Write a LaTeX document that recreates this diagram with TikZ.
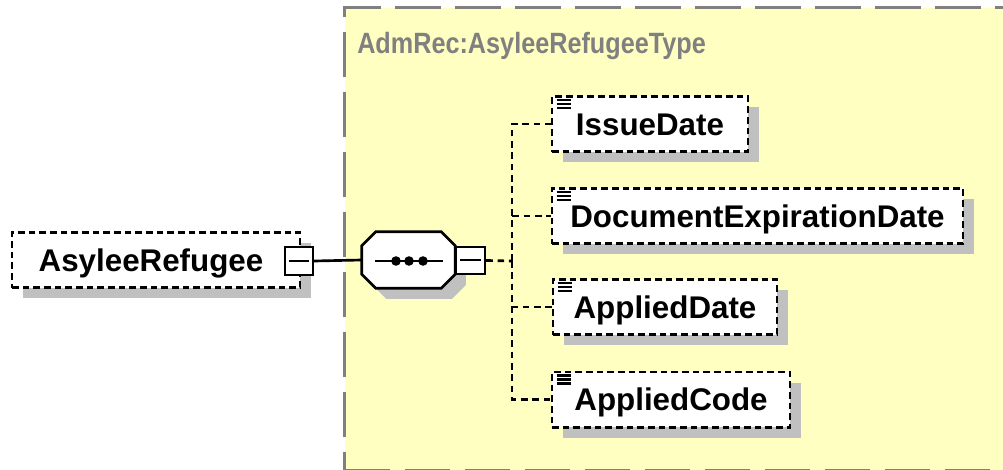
\documentclass[tikz,border=0pt]{standalone}
\usepackage{fontspec}
\setmainfont{Liberation Sans}
\usetikzlibrary{positioning, shadows}
\definecolor{typefill}{RGB}{255,255,194}
\definecolor{shadowgray}{RGB}{192,192,192}
\definecolor{typegray}{RGB}{128,128,128}

\begin{document}
\begin{tikzpicture}[
  x=0.75pt, y=-0.75pt,
  elemshadow/.style={drop shadow={shadow xshift=8pt, shadow yshift=-8pt,
                     fill=shadowgray, opacity=1}},
  elembox/.style={rectangle, draw=black, fill=white, line width=2pt,
                  dash pattern=on 5pt off 3pt, elemshadow,
                  minimum height=41.5pt, inner sep=0pt,
                  font=\fontsize{23.5}{26}\selectfont\bfseries,
                  text height=16.8pt, text depth=0pt},
  typebox/.style={rectangle, draw=typegray, fill=typefill, line width=2.5pt,
                  dash pattern=on 34pt off 11pt, inner sep=0pt},
  seqbox/.style={rectangle, minimum width=69.75pt, minimum height=42pt,
                 inner sep=0pt},
  minusbox/.style={rectangle, draw=black, fill=white, line width=1.8pt,
                   inner sep=0pt},
  link/.style={line width=2pt},
  branch/.style={line width=2pt, dash pattern=on 5pt off 3.5pt}
]
\useasboundingbox (0,0) rectangle (1003,470);

% -------- TYPE AREA --------
\node[typebox, anchor=north west, minimum width=560pt, minimum height=347pt]
  (type) at (343,6) {};
\node[anchor=west, text=typegray, font=\fontsize{22}{24}\selectfont\bfseries,
      text height=15.8pt, text depth=0pt, inner sep=0pt]
  (typename) at (357,42.5) {\scalebox{0.86}[1]{AdmRec:AsyleeRefugeeType}};

% -------- ROOT ELEMENT --------
\node[elembox, minimum width=216pt] (root) at (156,260)
  {AsyleeRefugee\hspace*{7.5pt}};
\node[minusbox, minimum width=21pt, minimum height=21pt] (rootminus) at (299,261) {};
\draw[line width=1.5pt] ([xshift=4pt]rootminus.west) -- ([xshift=-4pt]rootminus.east);

% -------- SEQUENCE --------
\node[seqbox] (seq) at (408.5,260) {};
\path[draw=black, fill=white, line width=2pt, elemshadow]
  ([shift={(14,0)}]seq.north west) -- ([shift={(-14,0)}]seq.north east)
  -- ([shift={(0,14)}]seq.north east) -- ([shift={(0,-14)}]seq.south east)
  -- ([shift={(-14,0)}]seq.south east) -- ([shift={(14,0)}]seq.south west)
  -- ([shift={(0,-14)}]seq.south west) -- ([shift={(0,14)}]seq.north west)
  -- cycle;
\draw[line width=1.5pt] (375,261) -- (443,261);
\foreach \dx in {396,409,423}
  \fill (\dx,261) circle (3.6pt);
\node[minusbox, minimum width=21.75pt, minimum height=20.25pt] (seqminus) at (470.5,260.5) {};
\draw[line width=1.5pt] ([xshift=4pt]seqminus.west) -- ([xshift=-4pt]seqminus.east);
\coordinate (fork) at (512,261);

% -------- CHILD ELEMENTS --------
\node[elembox, minimum width=147pt] (issue) at (650,124) {IssueDate};
\node[elembox, minimum width=308.25pt] (docexp) at (757.5,216) {DocumentExpirationDate};
\node[elembox, minimum width=168pt] (applieddate) at (665,307) {AppliedDate};
\node[elembox, minimum width=178.5pt] (appliedcode) at (671,399.5) {AppliedCode};

% text icons
\foreach \el in {issue,docexp,applieddate,appliedcode}
  \foreach \dy in {5,9,13}
    \draw[line width=1.6pt] ([shift={(6,\dy)}]\el.north west) -- ([shift={(20,\dy)}]\el.north west);

% Connectors
\draw[link] (rootminus.east) -- (seq.west);
\draw[branch] (seqminus.east) -- (fork);
\draw[branch] (fork) |- (issue.west);
\draw[branch] (fork) |- (docexp.west);
\draw[branch] (fork) |- (applieddate.west);
\draw[branch] (fork) |- (appliedcode.west);

\end{tikzpicture}
\end{document}
